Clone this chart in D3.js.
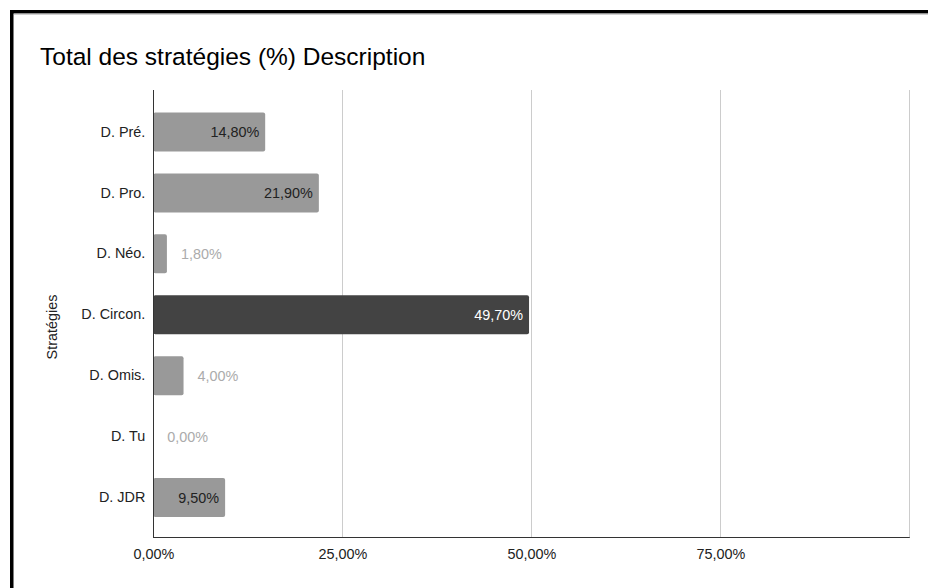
<!DOCTYPE html>
<html>
<head>
<meta charset="utf-8">
<script src="https://cdn.jsdelivr.net/npm/d3@7"></script>
<style>
  html, body { margin: 0; padding: 0; background: #fff; overflow: hidden; }
  svg { display: block; font-family: Arial, "Liberation Sans", sans-serif; }
</style>
</head>
<body>
<svg id="chart" width="928" height="588"></svg>
<script>
// ---- data ----
const title = "Total des stratégies (%) Description";
const yAxisTitle = "Stratégies";
const categories = ["D. Pré.", "D. Pro.", "D. Néo.", "D. Circon.", "D. Omis.", "D. Tu", "D. JDR"];
const values = [14.8, 21.9, 1.8, 49.7, 4.0, 0.0, 9.5];
const tickValues = [0, 25, 50, 75];
const gridValues = [25, 50, 75, 100];

const W = 928, H = 588;
const svg = d3.select("#chart");

// frame
svg.append("rect").attr("x", 0).attr("y", 0).attr("width", W).attr("height", H).attr("fill", "#fff");
svg.append("rect")
  .attr("x", 11.75).attr("y", 11.75)
  .attr("width", W + 50).attr("height", H + 50)
  .attr("fill", "none").attr("stroke", "#000").attr("stroke-width", 3.5);
svg.append("line").attr("x1", 14).attr("x2", W).attr("y1", 14.2).attr("y2", 14.2)
  .attr("stroke", "#bbb").attr("stroke-width", 1);

// title
svg.append("text").attr("x", 40).attr("y", 65)
  .attr("font-size", 24.5).attr("fill", "#000").text(title);

const plotTop = 90, plotBottom = 537.3;
const x = d3.scaleLinear().domain([0, 100]).range([153.3, 909.3]);
const y = d3.scaleBand().domain(categories).range([101.5, 528]).paddingInner(0.36).paddingOuter(0.18);

const loc = d3.formatLocale({decimal: ",", thousands: " ", grouping: [3], currency: ["", "€"]});
const fmt = v => loc.format(".2f")(v) + "%";

// gridlines
svg.append("g").selectAll("line").data(gridValues).join("line")
  .attr("x1", d => Math.round(x(d)) + 0.5).attr("x2", d => Math.round(x(d)) + 0.5)
  .attr("y1", plotTop).attr("y2", plotBottom)
  .attr("stroke", "#cccccc").attr("stroke-width", 1);

// bars
const maxV = d3.max(values);
const data = categories.map((c, i) => ({c, v: values[i]}));
svg.append("g").selectAll("rect").data(data.filter(d => d.v > 0)).join("rect")
  .attr("x", x(0)).attr("y", d => y(d.c))
  .attr("width", d => x(d.v) - x(0)).attr("height", y.bandwidth())
  .attr("rx", 2).attr("ry", 2)
  .attr("fill", d => d.v === maxV ? "#434343" : "#999999");

// value labels
const lab = svg.append("g").selectAll("text").data(data).join("text")
  .attr("font-size", 14.4)
  .attr("y", d => y(d.c) + y.bandwidth() / 2)
  .attr("dy", "0.36em")
  .text(d => fmt(d.v));
lab.each(function(d) {
  const tw = this.getComputedTextLength();
  const bw = x(d.v) - x(0);
  const sel = d3.select(this);
  if (bw > tw + 14) {
    sel.attr("x", x(d.v) - 6).attr("text-anchor", "end")
       .attr("fill", d.v === maxV ? "#ffffff" : "#222222");
  } else {
    sel.attr("x", x(d.v) + 14).attr("text-anchor", "start").attr("fill", "#ababab");
  }
});

// y axis (category labels)
const yAxis = d3.axisLeft(y).tickSize(0).tickPadding(8);
const gy = svg.append("g").attr("transform", `translate(${x(0)},0)`).call(yAxis);
gy.select(".domain").remove();
gy.selectAll("text").attr("font-size", 14.4).attr("fill", "#222").attr("font-family", null);

// x axis tick labels
const xAxis = d3.axisBottom(x).tickValues(tickValues).tickSize(0).tickPadding(11).tickFormat(fmt);
const gx = svg.append("g").attr("transform", `translate(0,${plotBottom})`).call(xAxis);
gx.select(".domain").remove();
gx.selectAll("text").attr("font-size", 14.4).attr("fill", "#222").attr("font-family", null);

// axis lines
svg.append("line").attr("x1", 153.5).attr("x2", 153.5).attr("y1", plotTop).attr("y2", plotBottom)
  .attr("stroke", "#333").attr("stroke-width", 1);
svg.append("line").attr("x1", 153).attr("x2", 909.8).attr("y1", 537.5).attr("y2", 537.5)
  .attr("stroke", "#333").attr("stroke-width", 1.2);

// y axis title
svg.append("text")
  .attr("transform", "translate(57,327) rotate(-90)")
  .attr("text-anchor", "middle").attr("font-size", 14.4).attr("fill", "#222")
  .text(yAxisTitle);
</script>
</body>
</html>
